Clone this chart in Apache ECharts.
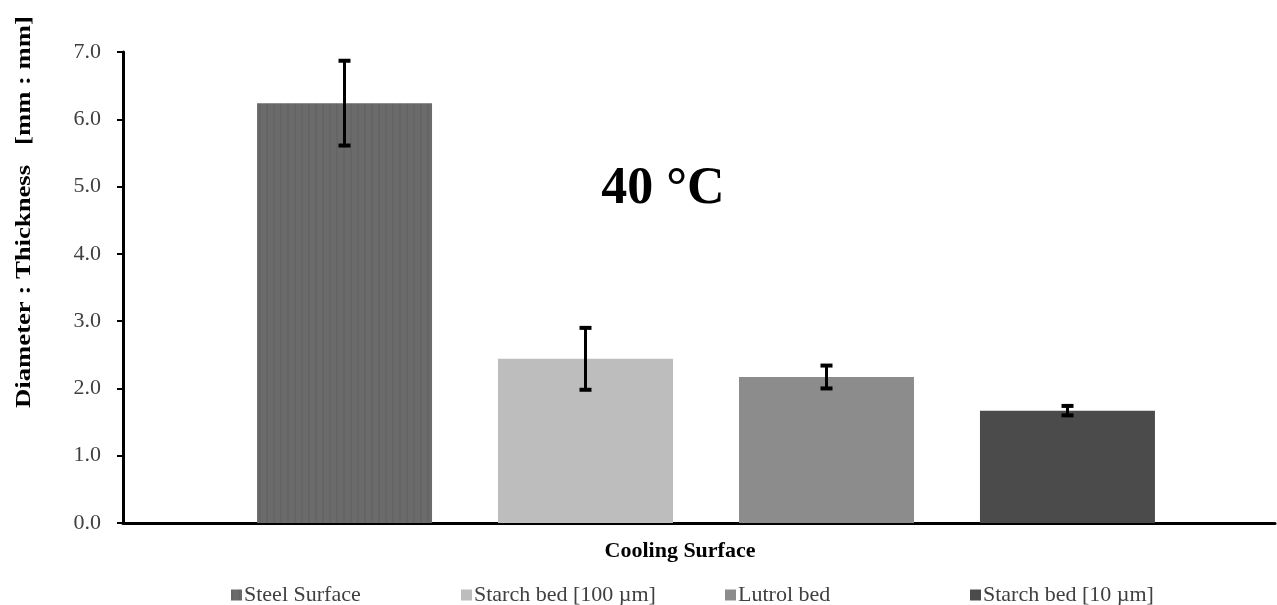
<!DOCTYPE html>
<html>
  <head>
    <meta charset="utf-8">
    <title>Diameter : Thickness at 40 °C</title>
    <style>
      body { margin: 0; background: #fff; }
      #chart { width: 1277px; height: 605px; }
    </style>
  </head>
  <body>
    <div id="chart"></div>
    <script src="https://cdn.jsdelivr.net/npm/echarts@6/dist/echarts.min.js"></script>
    <script>
      // values
      var surfaces = ['Steel Surface', 'Starch bed [100 \u00b5m]', 'Lutrol bed', 'Starch bed [10 \u00b5m]'];
      var ratios = [6.24, 2.44, 2.17, 1.67];
      var errors = [0.63, 0.46, 0.17, 0.07];
      var barColors = ['#6b6b6b', '#bdbdbd', '#8c8c8c', '#4b4b4b'];
      var yTicks = [0, 1, 2, 3, 4, 5, 6, 7];
      var legendLeft = [226, 456, 720, 965];

      var BAR_W = 175;
      var GAP = 66;
      var serif = '"Liberation Serif", "DejaVu Serif", serif';

      var chart = echarts.init(document.getElementById('chart'));

      // bars live on grid 1 (slightly shifted), axes are drawn on grid 0
      var series = surfaces.map(function (name, i) {
        var style = { color: barColors[i] };
        if (i === 0) {
          // faint vertical stripes on the steel bar
          style.decal = {
            symbol: 'rect', symbolSize: 1, color: 'rgba(0,0,0,0.06)',
            dashArrayX: [2, 5], dashArrayY: [1, 0]
          };
        }
        return {
          name: name,
          type: 'bar',
          xAxisIndex: 1,
          yAxisIndex: 1,
          barWidth: BAR_W,
          barGap: (GAP / BAR_W * 100).toFixed(1) + '%',
          itemStyle: style,
          data: [ratios[i]]
        };
      });

      // error bars, shifted to sit on each bar of the group
      series.push({
        type: 'custom',
        name: 'error',
        xAxisIndex: 1,
        yAxisIndex: 1,
        z: 10,
        data: ratios.map(function (v, i) { return [0, v, errors[i], i]; }),
        renderItem: function (params, api) {
          var idx = api.value(3);
          var hi = api.coord([0, api.value(1) + api.value(2)]);
          var lo = api.coord([0, api.value(1) - api.value(2)]);
          var x = hi[0] + (idx - (surfaces.length - 1) / 2) * (BAR_W + GAP);
          var cap = 6;
          return {
            type: 'group',
            children: [
              { type: 'line', shape: { x1: x, y1: hi[1], x2: x, y2: lo[1] }, style: { stroke: '#000', lineWidth: 3 } },
              { type: 'line', shape: { x1: x - cap, y1: hi[1], x2: x + cap, y2: hi[1] }, style: { stroke: '#000', lineWidth: 4 } },
              { type: 'line', shape: { x1: x - cap, y1: lo[1], x2: x + cap, y2: lo[1] }, style: { stroke: '#000', lineWidth: 4 } }
            ]
          };
        }
      });

      var legends = surfaces.map(function (name, i) {
        return {
          left: legendLeft[i],
          top: 579,
          data: [name],
          icon: 'rect',
          itemWidth: 11,
          itemHeight: 11,
          itemGap: 0,
          textStyle: { fontFamily: serif, fontSize: 22, color: '#404040', padding: [0, 0, 0, -3] }
        };
      });

      var option = {
        animation: false,
        backgroundColor: '#fff',
        grid: [
          { left: 123, right: 2, top: 52, bottom: 82 },
          { left: 137, right: 2, top: 52, bottom: 82 }
        ],
        legend: legends,
        xAxis: [
          {
            type: 'category',
            gridIndex: 0,
            data: ['Cooling Surface'],
            name: 'Cooling Surface',
            nameLocation: 'middle',
            nameGap: 17,
            nameTextStyle: { fontFamily: serif, fontSize: 22, fontWeight: 'bold', color: '#000', padding: [0, 38, 0, 0] },
            axisLine: { lineStyle: { color: '#000', width: 3 } },
            axisTick: { show: false },
            axisLabel: { show: false }
          },
          {
            type: 'category',
            gridIndex: 1,
            data: ['Cooling Surface'],
            show: false
          }
        ],
        yAxis: [
          {
            type: 'value',
            gridIndex: 0,
            min: yTicks[0],
            max: yTicks[yTicks.length - 1],
            interval: 1,
            splitLine: { show: false },
            axisLine: { show: true, lineStyle: { color: '#000', width: 3 } },
            axisTick: { show: true, length: 6, lineStyle: { color: '#000', width: 2 } },
            axisLabel: {
              fontFamily: serif, fontSize: 22, color: '#404040', margin: 22,
              formatter: function (v) { return v.toFixed(1); }
            }
          },
          {
            type: 'value',
            gridIndex: 1,
            min: yTicks[0],
            max: yTicks[yTicks.length - 1],
            interval: 1,
            show: false
          }
        ],
        graphic: [
          {
            type: 'text',
            x: 25, y: 212,
            rotation: Math.PI / 2,
            scaleX: 1.27,
            style: {
              text: 'Diameter : Thickness   [mm : mm]',
              fontFamily: serif, fontSize: 21, fontWeight: 'bold', fill: '#000',
              align: 'center', verticalAlign: 'middle'
            }
          },
          {
            type: 'text',
            x: 663, y: 190,
            style: {
              text: '40 \u00b0C',
              fontFamily: serif, fontSize: 52, fontWeight: 'bold', fill: '#000',
              align: 'center', verticalAlign: 'middle'
            }
          }
        ],
        series: series
      };

      chart.setOption(option);
    </script>
  </body>
</html>
